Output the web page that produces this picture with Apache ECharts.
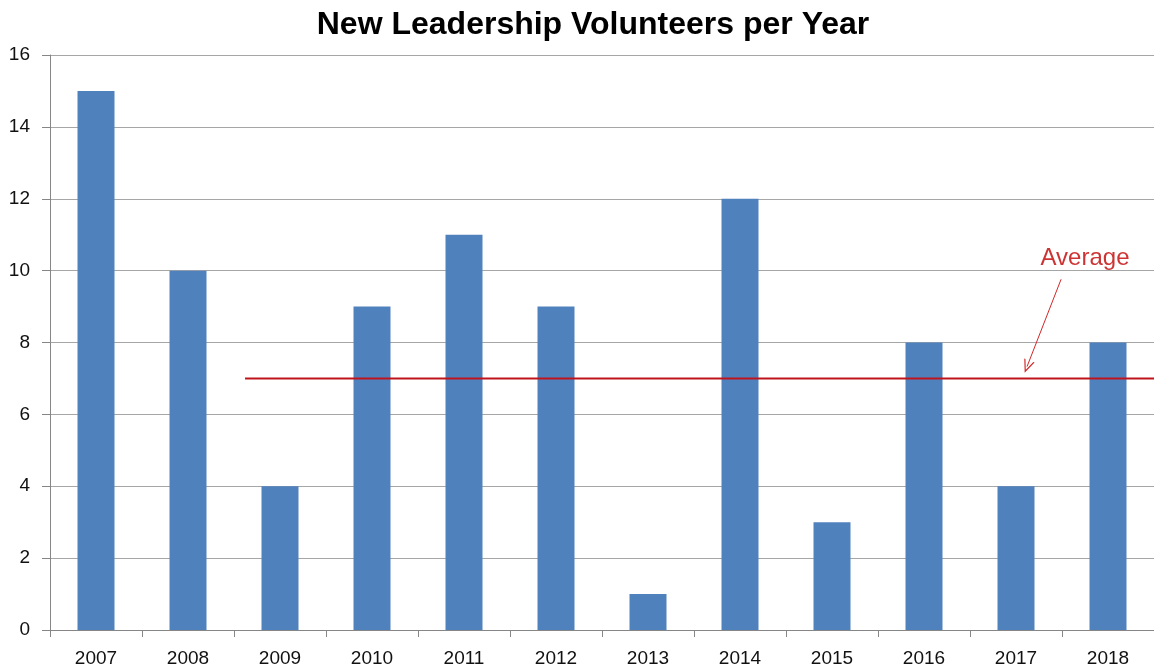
<!DOCTYPE html>
<html>
<head>
<meta charset="utf-8">
<script src="https://cdn.jsdelivr.net/npm/echarts@6/dist/echarts.min.js"></script>
<style>html,body{margin:0;padding:0;background:#fff}#c{width:1154px;height:671px}</style>
</head>
<body>
<div id="c"></div>
<script>
var years = ['2007','2008','2009','2010','2011','2012','2013','2014','2015','2016','2017','2018'];
var volunteers = [15, 10, 4, 9, 11, 9, 1, 12, 3, 8, 4, 8];
var yTicks = [0, 2, 4, 6, 8, 10, 12, 14, 16];
var averageLine = [[1.62, 7], [11.5, 7]];
var arrowTail = [10.49, 9.76];
var arrowHead = [10.12, 7.33];
var annotationPos = [10.75, 10.34];
var annotationText = 'Average';

var font = 'Liberation Sans, Arial, sans-serif';
var chart = echarts.init(document.getElementById('c'));
chart.setOption({
  animation: false,
  title: {
    text: 'New Leadership Volunteers per Year',
    left: 588, textAlign: 'center', top: 4,
    textStyle: { fontFamily: font, fontSize: 32, fontWeight: 'bold', color: '#000' }
  },
  grid: { left: 50, top: 55, width: 1108, bottom: 41, containLabel: false },
  xAxis: [{
    type: 'category', data: years,
    axisLine: { lineStyle: { color: '#868686', width: 1 } },
    axisTick: { show: true, length: 7, lineStyle: { color: '#868686' } },
    axisLabel: { margin: 19, fontFamily: font, fontSize: 19, color: '#111' },
    splitLine: { show: false }
  }, {
    type: 'value', min: -0.5, max: 11.5, show: false
  }],
  yAxis: {
    type: 'value', min: yTicks[0], max: yTicks[yTicks.length - 1], interval: 2,
    axisLine: { show: true, onZero: false, lineStyle: { color: '#868686', width: 1 } },
    axisTick: { show: true, length: 8, lineStyle: { color: '#868686' } },
    axisLabel: { margin: 20, fontFamily: font, fontSize: 19, color: '#111' },
    splitLine: { lineStyle: { color: '#a6a6a6', width: 1 } }
  },
  series: [{
    type: 'bar', data: volunteers, barWidth: 37,
    itemStyle: { color: '#4f81bd' }
  }, {
    type: 'line', xAxisIndex: 1, data: averageLine, symbol: 'none',
    lineStyle: { color: '#c0141c', width: 2 }, z: 5,
    markLine: {
      silent: true,
      symbol: ['none', 'path://M0,0L6,12L4.6,12L0,2.8L-4.6,12L-6,12Z'],
      symbolSize: [11, 13],
      label: { show: false },
      lineStyle: { color: '#d02828', width: 1, type: 'solid' },
      data: [[{ coord: arrowTail }, { coord: arrowHead }]]
    }
  }, {
    type: 'scatter', xAxisIndex: 1, data: [annotationPos], symbolSize: 0,
    label: {
      show: true, position: 'inside', formatter: annotationText,
      fontFamily: font, fontSize: 24, color: '#c00000'
    }
  }]
});
</script>
</body>
</html>
